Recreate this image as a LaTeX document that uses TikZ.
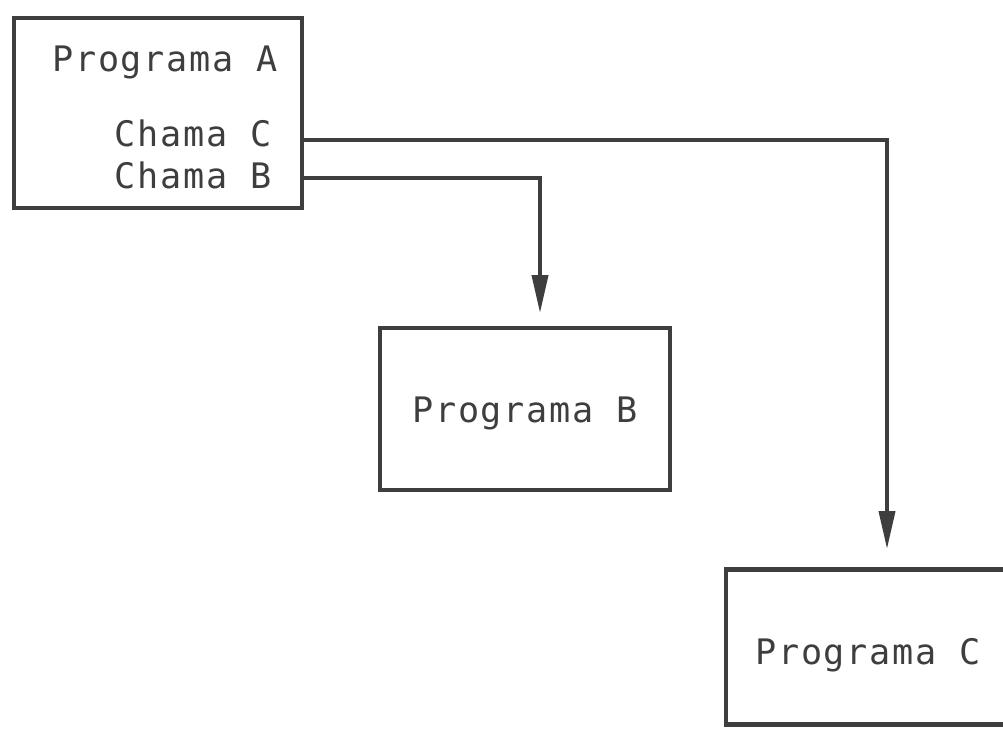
\documentclass[tikz,border=0pt]{standalone}
\usepackage{fontspec}
\newfontfamily\typefont[LetterSpace=5]{DejaVu Sans Mono}
\usetikzlibrary{arrows.meta, positioning, calc}
\definecolor{inkgray}{RGB}{62, 62, 62}

\begin{document}
\begin{tikzpicture}[x=0.02cm, y=-0.02cm,
    prog/.style={rectangle, draw=inkgray, line width=2.6pt, inner sep=0pt},
    label/.style={font=\typefont\fontsize{20}{24}\selectfont, text=inkgray, inner sep=0pt},
    call/.style={draw=inkgray, line width=2.2pt, -{Triangle[length=0.76cm, width=0.32cm]}}
]
\useasboundingbox (0,0) rectangle (1003,731);

% Program boxes
\node[prog, minimum width=5.76cm, minimum height=3.8cm] (progA) at (158,113) {};
\node[prog, minimum width=5.8cm, minimum height=3.24cm] (progB) at (525,409) {};
\node[prog, minimum width=5.8cm, minimum height=3.1cm] (progC) at (871,647) {};

% Texts
\node[label] (nameA) at (165,62) {Programa A};
\node[label, anchor=east] (callC) at (272,133) {Chama C};
\node[label, anchor=east] (callB) at (272,175) {Chama B};
\node[label] (nameB) at (525,413) {Programa B};
\node[label] (nameC) at (868,655) {Programa C};

% Arrow ends
\coordinate (tipB) at (540,313);
\coordinate (tipC) at (887,549);

% Calls
\draw[call] (progA.east |- 0,140) -| (tipC);
\draw[call] (progA.east |- 0,178) -| (tipB);
\end{tikzpicture}
\end{document}
